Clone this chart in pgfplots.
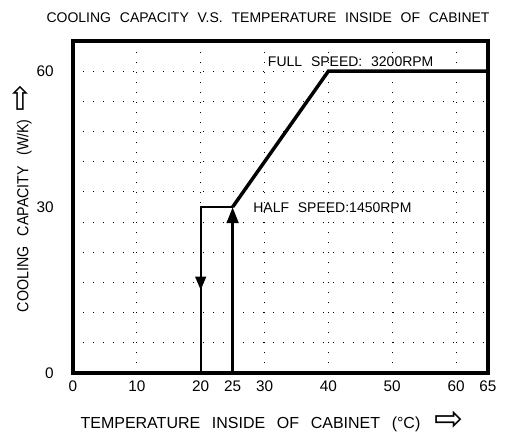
\documentclass[border=0pt]{standalone}
\usepackage{pgfplots}
\pgfplotsset{compat=1.18}
\usepackage{fontspec}
\setmainfont{Liberation Sans}
\newfontfamily\arrowfont{DejaVu Sans}
\usetikzlibrary{arrows.meta}
\begin{document}
\begin{tikzpicture}
\begin{axis}[
  at={(0,0)}, anchor=south west,
  scale only axis, width=311.25pt, height=249pt,
  xmin=0, xmax=65, ymin=0, ymax=66.667,
  y coord trafo/.code={\pgfmathparse{#1<=30 ? #1*5.5/30 : 5.5+(#1-30)*0.15}},
  y coord inv trafo/.code={\pgfmathparse{#1<=5.5 ? #1*30/5.5 : 30+(#1-5.5)/0.15}},
  xtick={0,10,20,25,30,40,50,60,65},
  xticklabels={0,10,20,25,30,40,50,60,65},
  ytick={0,30,60}, yticklabels={0,30,60},
  minor xtick={10,20,30,40,50,60},
  minor ytick={5.4545,10.909,16.364,21.818,27.273,33.333,40,46.667,53.333,60},
  minor grid style={black, line width=0.8pt, dash pattern=on 0.8pt off 6.7pt},
  xminorgrids, yminorgrids,
  major tick length=0pt, minor tick length=0pt,
  axis line style={line width=2.4pt},
  axis on top,
  /pgf/number format/assume math mode=true,
  tick label style={font=\fontsize{11.5}{13}\selectfont},
  xticklabel style={yshift=-2pt},
  yticklabel style={xshift=-11pt},
  title={COOLING\hspace{0.35em} CAPACITY\hspace{0.35em} V.S.\hspace{0.35em} TEMPERATURE\hspace{0.35em} INSIDE\hspace{0.35em} OF\hspace{0.35em} CABINET},
  title style={at={(0.47,1)}, anchor=center, yshift=11.25pt, font=\fontsize{10.5}{12}\selectfont},
  xlabel={TEMPERATURE\hspace{0.45em} INSIDE\hspace{0.45em} OF\hspace{0.45em} CABINET\hspace{0.45em} (°C)\hspace{0.9em}\raisebox{-1.5pt}{\arrowfont\fontsize{26}{26}\selectfont ⇨}},
  xlabel style={at={(0.48,0)}, anchor=center, yshift=-36pt, font=\fontsize{12}{14}\selectfont},
  ylabel={\scalebox{0.89}[1]{COOLING\hspace{0.45em} CAPACITY\hspace{0.45em} (W/K)}\hspace{0.5em}\raisebox{-1.5pt}{\arrowfont\fontsize{24}{24}\selectfont ⇨}},
  ylabel style={at={(0,0.526)}, anchor=center, yshift=38.25pt, font=\fontsize{12}{14}\selectfont},
]
% thin return path 25 -> 20 -> down
\addplot[black, line width=1.6pt, no markers] coordinates {(25,30) (20,30) (20,0)};
\addplot[black, line width=1.6pt, no markers, -{Triangle[length=10pt,width=8pt]}] coordinates {(20,30) (20,15)};
% thick rising path
\addplot[black, line width=2.6pt, no markers, -{Triangle[length=12pt,width=8.5pt]}] coordinates {(25,0) (25,30)};
\addplot[black, line width=2.6pt, no markers, line join=miter] coordinates {(25,30) (40,60) (65,60)};
\node[anchor=west, font=\fontsize{10.5}{12}\selectfont, inner sep=0pt] at (axis cs:30.5,62.2) {FULL\hspace{0.35em} SPEED:\hspace{0.35em} 3200RPM};
\node[anchor=west, font=\fontsize{10.5}{12}\selectfont, inner sep=0pt] at (axis cs:28.2,29.8) {HALF\hspace{0.35em} SPEED:1450RPM};
\end{axis}
\pgfresetboundingbox
\path[use as bounding box] (-54.75pt,-48pt) rectangle (335.25pt,279.75pt);
\end{tikzpicture}
\end{document}
